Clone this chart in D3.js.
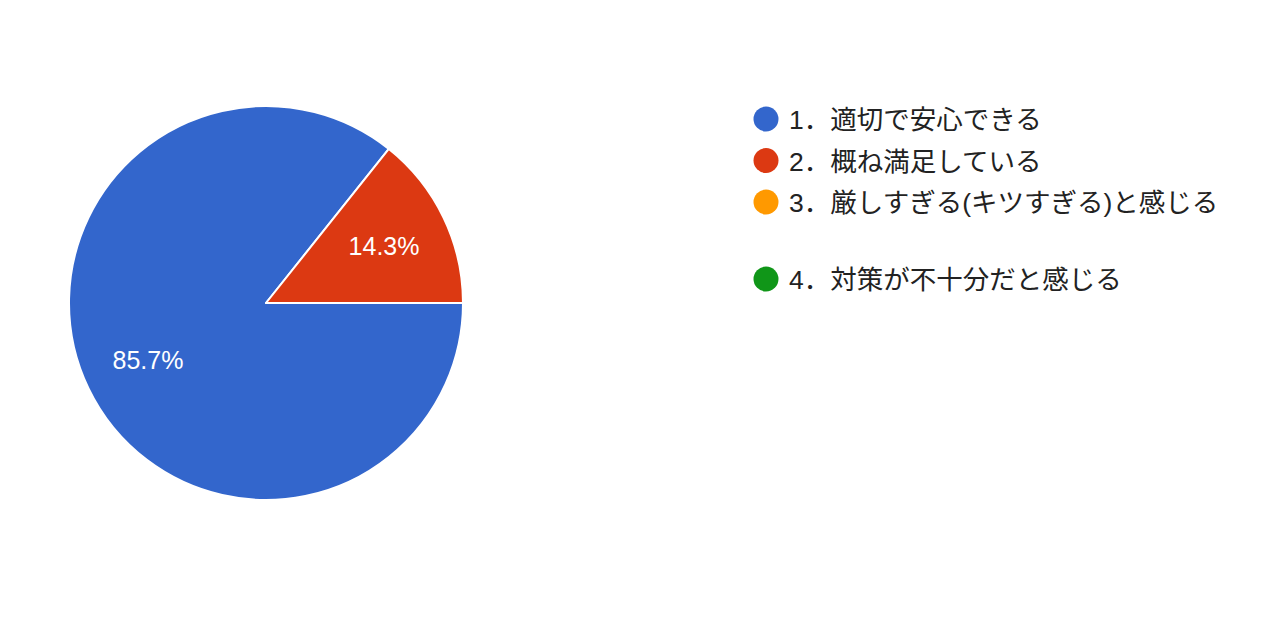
<!DOCTYPE html>
<html>
<head>
<meta charset="utf-8">
<script src="https://cdn.jsdelivr.net/npm/d3@7"></script>
<style>
  body { margin:0; background:#fff; }
  text { font-family: "Liberation Sans", "Noto Sans CJK JP", sans-serif; }
</style>
</head>
<body>
<div id="chart-area"></div>
<script>
// answers and counts (6 of 7 / 1 of 7)
const categories = ["1．適切で安心できる", "2．概ね満足している", "3．厳しすぎる(キツすぎる)と感じる", "4．対策が不十分だと感じる"];
const counts = [6, 1, 0, 0];
const colors = ["#3366cc", "#dc3912", "#ff9900", "#109618"];

const width = 1280, height = 640;
const cx = 266, cy = 303, radius = 197;

const svg = d3.select("#chart-area")
    .append("svg")
    .attr("width", width)
    .attr("height", height);

const total = d3.sum(counts);

const pie = d3.pie()
    .sort(null)
    .value(function(d){ return d; })
    .startAngle(Math.PI / 2)
    .endAngle(Math.PI / 2 + 2 * Math.PI);

const arcs = pie(counts).map(function(a, i){ a.index = i; return a; })
    .filter(function(a){ return a.value > 0; });

const arc = d3.arc().innerRadius(0).outerRadius(radius);
const labelArc = d3.arc().innerRadius(131).outerRadius(131);

const g = svg.append("g")
    .attr("transform", "translate(" + cx + "," + cy + ")");

g.selectAll("path")
    .data(arcs)
    .enter()
    .append("path")
        .attr("d", arc)
        .attr("fill", function(d){ return colors[d.index]; })
        .attr("stroke", "#fff")
        .attr("stroke-width", 2)
        .attr("stroke-linejoin", "round");

g.selectAll("text.pct")
    .data(arcs)
    .enter()
    .append("text")
        .attr("class", "pct")
        .attr("transform", function(d){ return "translate(" + labelArc.centroid(d) + ")"; })
        .attr("text-anchor", "middle")
        .attr("dy", "0.36em")
        .attr("font-size", "25px")
        .attr("fill", "#fff")
        .text(function(d){ return (d.value / total * 100).toFixed(1) + "%"; });

// legend: third entry takes two lines in the original layout
const legend = svg.append("g").attr("transform", "translate(766, 119)");
const rowY = function(i){ return i * 41.5 + (i > 2 ? 35.5 : 0); };

const items = legend.selectAll("g")
    .data(categories)
    .enter()
    .append("g")
        .attr("transform", function(d, i){ return "translate(0," + rowY(i) + ")"; });

items.append("circle")
    .attr("r", 12.5)
    .attr("fill", function(d, i){ return colors[i]; });

items.append("text")
    .attr("x", 23)
    .attr("dy", "0.38em")
    .attr("font-size", "26.5px")
    .attr("fill", "#222")
    .text(function(d){ return d; });
</script>
</body>
</html>
